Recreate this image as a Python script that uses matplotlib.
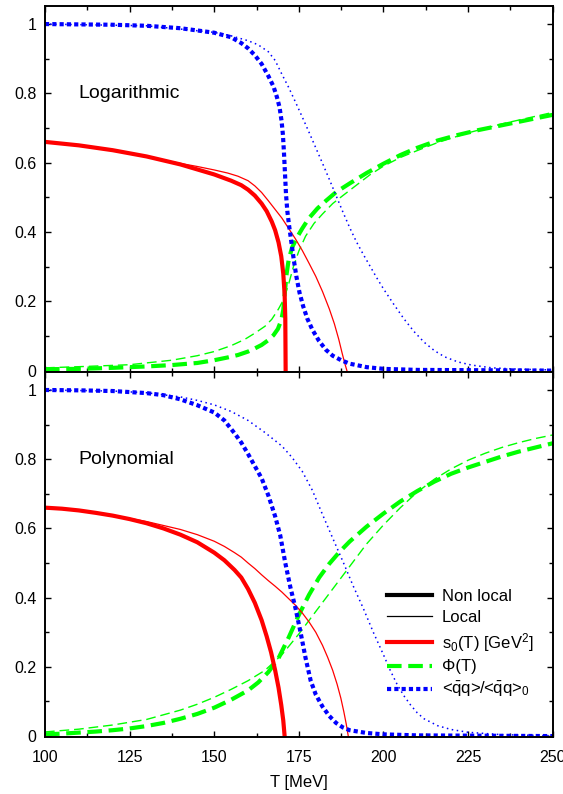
import matplotlib
matplotlib.use("Agg")
import matplotlib.pyplot as plt
from matplotlib.lines import Line2D
from matplotlib.ticker import MultipleLocator, FuncFormatter

plt.rcParams['font.family'] = ['Liberation Sans', 'DejaVu Sans']
plt.rcParams['mathtext.fontset'] = 'custom'
plt.rcParams['mathtext.rm'] = 'Liberation Sans'
plt.rcParams['mathtext.it'] = 'Liberation Sans:italic'

# ---------------- Data: Logarithmic (top panel) ----------------
log_s0_nl_T = [100, 110, 120, 130, 140, 150, 155, 158, 160, 162, 164, 165.5, 167, 168, 169, 169.8, 170.4, 170.8, 171.0, 171.1]
log_s0_nl_y = [0.660, 0.650, 0.636, 0.618, 0.595, 0.566, 0.548, 0.535, 0.522, 0.505, 0.482, 0.460, 0.430, 0.405, 0.370, 0.330, 0.280, 0.220, 0.150, 0.0]

log_s0_l_T = [100, 120, 140, 145, 150, 154, 157, 160, 162, 164, 166, 168, 170, 172, 174, 176, 178, 180, 182, 184, 185.5, 186.8, 187.8, 188.6, 189.2]
log_s0_l_y = [0.660, 0.637, 0.598, 0.589, 0.579, 0.570, 0.561, 0.548, 0.533, 0.514, 0.490, 0.465, 0.440, 0.410, 0.380, 0.347, 0.310, 0.272, 0.228, 0.178, 0.135, 0.090, 0.050, 0.020, 0.0]

log_phi_nl_T = [100, 110, 120, 130, 137.5, 145, 150, 154, 157, 160, 162, 164, 166, 167.5, 168.8, 169.8, 170.4, 170.9, 171.4, 172, 173, 174.5, 176, 178, 180.5, 183, 186, 190, 195, 200, 205, 210, 216, 222, 228, 235, 242, 250]
log_phi_nl_y = [0.004, 0.005, 0.008, 0.012, 0.016, 0.022, 0.030, 0.038, 0.045, 0.055, 0.064, 0.074, 0.088, 0.102, 0.120, 0.145, 0.175, 0.230, 0.280, 0.320, 0.355, 0.385, 0.410, 0.440, 0.468, 0.490, 0.515, 0.540, 0.570, 0.597, 0.622, 0.643, 0.664, 0.680, 0.694, 0.708, 0.722, 0.738]

log_phi_l_T = [100, 112, 125, 137.5, 145, 150, 155, 159, 162, 165, 167, 169, 170.5, 172, 173.4, 175, 177, 179.5, 182, 185, 188, 192, 196, 200, 205, 210, 216, 225, 235, 250]
log_phi_l_y = [0.008, 0.012, 0.017, 0.030, 0.043, 0.055, 0.072, 0.090, 0.108, 0.128, 0.148, 0.178, 0.205, 0.250, 0.300, 0.345, 0.388, 0.425, 0.452, 0.482, 0.505, 0.535, 0.565, 0.590, 0.615, 0.635, 0.658, 0.686, 0.712, 0.745]

log_qq_nl_T = [100, 120, 130, 140, 150, 155, 158, 160, 162, 164, 166, 167.5, 168.5, 169.3, 169.9, 170.3, 170.6, 170.9, 171.2, 171.6, 172.1, 172.8, 173.5, 174.3, 175.2, 176.3, 177.5, 179, 181, 183, 185, 187.5, 190, 195, 200, 210, 250]
log_qq_nl_y = [1.0, 0.998, 0.995, 0.988, 0.975, 0.962, 0.945, 0.930, 0.910, 0.885, 0.850, 0.820, 0.790, 0.760, 0.720, 0.680, 0.630, 0.570, 0.510, 0.460, 0.420, 0.370, 0.320, 0.270, 0.225, 0.185, 0.150, 0.118, 0.085, 0.060, 0.043, 0.030, 0.020, 0.010, 0.005, 0.002, 0.0]

log_qq_l_T = [100, 130, 150, 155, 160, 163, 166, 168, 170, 172, 174, 176, 178, 180, 182, 184, 186, 188, 190, 192, 194, 196, 198, 200, 203, 206, 209, 212, 215, 218, 222, 226, 232, 240, 250]
log_qq_l_y = [1.0, 0.995, 0.976, 0.966, 0.952, 0.940, 0.920, 0.895, 0.855, 0.817, 0.775, 0.732, 0.688, 0.643, 0.598, 0.552, 0.505, 0.458, 0.413, 0.372, 0.336, 0.302, 0.268, 0.236, 0.192, 0.150, 0.113, 0.082, 0.058, 0.040, 0.025, 0.016, 0.008, 0.004, 0.002]

# ---------------- Data: Polynomial (bottom panel) ----------------
pol_s0_nl_T = [100, 105, 110, 115, 120, 125, 130, 135, 140, 145, 150, 153, 156, 158, 160, 162, 164, 165.5, 166.8, 168, 169, 169.8, 170.4, 170.8]
pol_s0_nl_y = [0.660, 0.657, 0.652, 0.645, 0.637, 0.627, 0.615, 0.600, 0.582, 0.560, 0.530, 0.508, 0.480, 0.458, 0.425, 0.385, 0.335, 0.288, 0.242, 0.190, 0.140, 0.090, 0.045, 0.0]

pol_s0_l_T = [100, 110, 120, 130, 140, 145, 150, 153, 156, 158, 160, 162, 164, 166, 168, 170, 172, 174, 176, 178, 180, 182, 183.5, 185, 186.3, 187.4, 188.3, 189, 189.6]
pol_s0_l_y = [0.660, 0.652, 0.638, 0.620, 0.597, 0.582, 0.563, 0.548, 0.530, 0.517, 0.500, 0.484, 0.466, 0.449, 0.433, 0.416, 0.397, 0.378, 0.356, 0.330, 0.300, 0.262, 0.228, 0.190, 0.150, 0.110, 0.070, 0.035, 0.0]

pol_phi_nl_T = [100, 105, 110, 115, 120, 125, 130, 135, 140, 145, 150, 155, 160, 163, 166, 169, 172, 175, 178, 181, 184, 187, 190, 195, 200, 205, 210, 215, 220, 225, 230, 235, 240, 245, 250]
pol_phi_nl_y = [0.005, 0.007, 0.010, 0.013, 0.017, 0.022, 0.029, 0.038, 0.050, 0.064, 0.082, 0.105, 0.132, 0.155, 0.185, 0.225, 0.285, 0.350, 0.408, 0.458, 0.498, 0.532, 0.562, 0.605, 0.643, 0.678, 0.708, 0.735, 0.758, 0.776, 0.792, 0.808, 0.822, 0.834, 0.846]

pol_phi_l_T = [100, 110, 120, 130, 140, 145, 150, 155, 160, 165, 170, 175, 180, 185, 190, 195, 200, 205, 210, 215, 220, 225, 230, 235, 240, 245, 250]
pol_phi_l_y = [0.012, 0.020, 0.032, 0.048, 0.075, 0.092, 0.112, 0.135, 0.160, 0.190, 0.235, 0.295, 0.360, 0.425, 0.490, 0.555, 0.610, 0.660, 0.705, 0.742, 0.772, 0.797, 0.817, 0.834, 0.848, 0.860, 0.870]

pol_qq_nl_T = [100, 110, 120, 130, 135, 140, 145, 150, 153, 156, 158, 160, 162, 164, 166, 168, 169.5, 171, 172.5, 174, 175.5, 177, 178.5, 180, 182, 184, 186, 188, 190, 195, 200, 210, 250]
pol_qq_nl_y = [1.0, 0.999, 0.997, 0.991, 0.985, 0.973, 0.956, 0.935, 0.912, 0.875, 0.848, 0.815, 0.780, 0.745, 0.695, 0.635, 0.580, 0.500, 0.430, 0.370, 0.300, 0.225, 0.160, 0.120, 0.085, 0.058, 0.038, 0.025, 0.017, 0.009, 0.005, 0.002, 0.0]

pol_qq_l_T = [100, 120, 130, 140, 145, 150, 155, 160, 165, 170, 173, 176, 179, 182, 185, 188, 191, 194, 197, 200, 202, 204, 206, 208, 210, 212, 216, 220, 225, 235, 250]
pol_qq_l_y = [1.0, 0.997, 0.992, 0.980, 0.970, 0.957, 0.938, 0.912, 0.877, 0.838, 0.805, 0.765, 0.710, 0.640, 0.572, 0.505, 0.435, 0.370, 0.300, 0.235, 0.190, 0.150, 0.117, 0.090, 0.067, 0.050, 0.030, 0.019, 0.011, 0.004, 0.001]

panel_labels = ["Logarithmic", "Polynomial"]
legend_labels = ["Non local", "Local", r"s$_0$(T) [GeV$^2$]", "Φ(T)",
                 r"<$\mathrm{\bar{q}q}$>/<$\mathrm{\bar{q}q}$>$_0$"]
x_label = "T [MeV]"

RED, GREEN, BLUE = "#ff0000", "#00ff00", "#0000ff"
thick, thin = 3.0, 0.9

fig = plt.figure(figsize=(5.63, 7.94), dpi=100)
ax_top = fig.add_axes([0.0799, 0.5315, 0.9018, 0.4609])
ax_bot = fig.add_axes([0.0799, 0.0712, 0.9018, 0.4603])

def style_axis(ax, show_xlabels):
    ax.set_xlim(100, 250)
    ax.set_ylim(-0.004, 1.052)
    ax.xaxis.set_major_locator(MultipleLocator(25))
    ax.xaxis.set_minor_locator(MultipleLocator(12.5))
    ax.yaxis.set_major_locator(MultipleLocator(0.2))
    ax.yaxis.set_minor_locator(MultipleLocator(0.1))
    ax.yaxis.set_major_formatter(FuncFormatter(lambda v, p: "%g" % round(v, 3)))
    ax.tick_params(which='both', direction='in', top=True, right=True, width=1.0)
    ax.tick_params(which='major', length=4.5, labelsize=11.5, pad=6)
    ax.tick_params(which='minor', length=3)
    ax.tick_params(axis='x', pad=9)
    if not show_xlabels:
        ax.tick_params(axis='x', labelbottom=False)
    for s in ax.spines.values():
        s.set_linewidth(1.4)

def draw(ax, s0nl, s0l, phinl, phil, qqnl, qql):
    ax.plot(*phil, color=GREEN, lw=1.0, ls=(0, (7, 3.5)))
    ax.plot(*phinl, color=GREEN, lw=thick, ls=(0, (3.5, 1.6)))
    ax.plot(*s0l, color=RED, lw=thin)
    ax.plot(*s0nl, color=RED, lw=thick)
    ax.plot(*qql, color=BLUE, lw=1.1, ls=(0, (1, 2.3)))
    ax.plot(*qqnl, color=BLUE, lw=thick, ls=(0, (1, 0.75)))

draw(ax_top, (log_s0_nl_T, log_s0_nl_y), (log_s0_l_T, log_s0_l_y),
     (log_phi_nl_T, log_phi_nl_y), (log_phi_l_T, log_phi_l_y),
     (log_qq_nl_T, log_qq_nl_y), (log_qq_l_T, log_qq_l_y))
draw(ax_bot, (pol_s0_nl_T, pol_s0_nl_y), (pol_s0_l_T, pol_s0_l_y),
     (pol_phi_nl_T, pol_phi_nl_y), (pol_phi_l_T, pol_phi_l_y),
     (pol_qq_nl_T, pol_qq_nl_y), (pol_qq_l_T, pol_qq_l_y))

style_axis(ax_top, False)
style_axis(ax_bot, True)

ax_top.text(110, 0.80, panel_labels[0], fontsize=14, ha='left', va='center')
ax_bot.text(110, 0.80, panel_labels[1], fontsize=14, ha='left', va='center')
ax_bot.set_xlabel(x_label, fontsize=12, labelpad=7)

handles = [
    Line2D([], [], color='black', lw=thick),
    Line2D([], [], color='black', lw=thin),
    Line2D([], [], color=RED, lw=thick),
    Line2D([], [], color=GREEN, lw=thick, ls=(0, (3.5, 1.6))),
    Line2D([], [], color=BLUE, lw=thick, ls=(0, (1, 0.75))),
]
ax_bot.legend(handles, legend_labels, loc='center left', bbox_to_anchor=(0.673, 0.255),
              frameon=False, fontsize=12, handlelength=2.7, handletextpad=0.6,
              labelspacing=0.35, borderpad=0, borderaxespad=0)

fig.savefig("out.png", dpi=100)
